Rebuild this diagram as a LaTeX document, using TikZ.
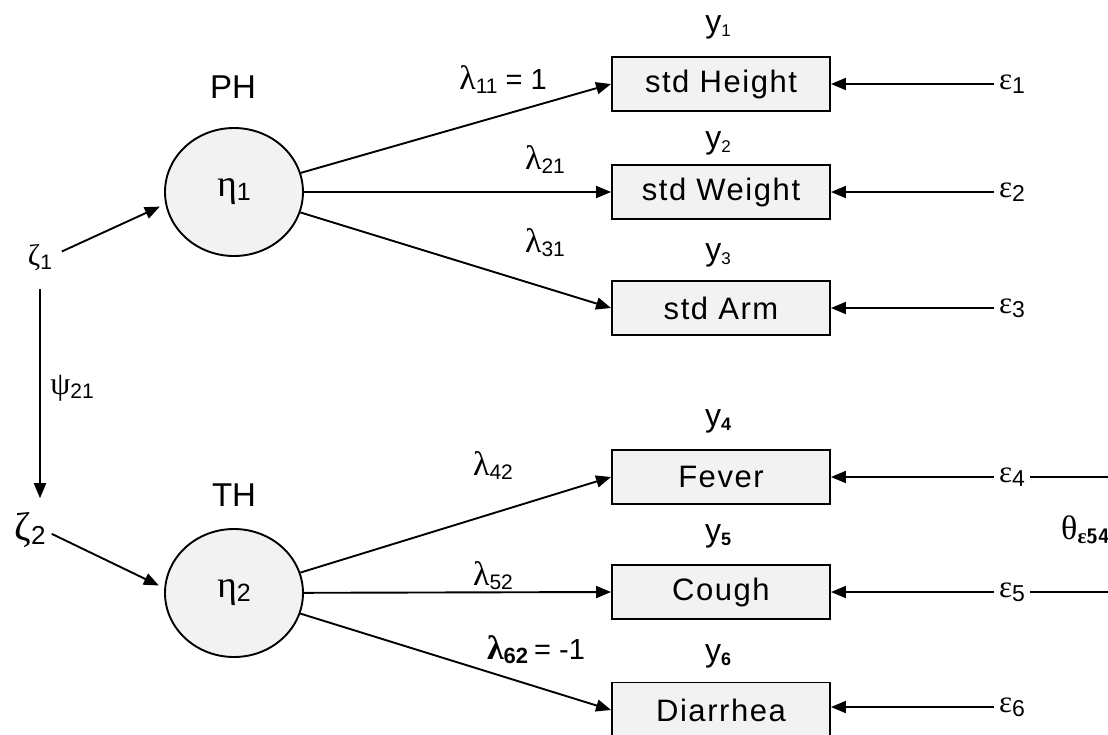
\documentclass[tikz,border=0pt]{standalone}
\usepackage{fontspec}
\setmainfont{Liberation Sans}
\newfontfamily\gr{Liberation Serif}
\newfontfamily\wide[LetterSpace=5]{Liberation Sans}
\usetikzlibrary{arrows.meta,shapes.geometric}
% subscript: #1 size, #2 text
\newcommand\sbs[2]{\raisebox{-4pt}{\fontsize{#1}{#1}\selectfont #2}}
\newcommand\grk[2]{{\fontsize{#1}{#1}\selectfont\gr #2}}
\begin{document}
\begin{tikzpicture}[x=1pt,y=-1pt,
  arr/.style={line width=1.9pt,-{Triangle[length=15pt,width=12pt]}},
  ln/.style={line width=1.9pt},
  obs/.style={draw,line width=1.9pt,fill=black!5,minimum width=218pt,minimum height=54pt,
    inner sep=0pt,font=\wide\fontsize{31}{33}\selectfont},
  lat/.style={ellipse,draw,line width=1.9pt,fill=black!5,minimum width=138pt,minimum height=128pt,inner sep=0pt},
  lbl/.style={inner sep=0pt,font=\fontsize{28}{30}\selectfont},
  ylb/.style={inner sep=0pt,font=\fontsize{32}{34}\selectfont},
  err/.style={inner sep=5pt,anchor=west}]
\useasboundingbox (0,0) rectangle (1108,734);

% observed indicators
\node[obs] (h) at (721,84) {std Height};
\node[obs] (w) at (721,192) {std Weight};
\node[obs] (a) at (721,308) {std Arm};
\node[obs] (f) at (721,477) {Fever};
\node[obs] (c) at (721,592) {Cough};
\node[obs,minimum height=55pt] (d) at (721,710) {Diarrhea};

\node[ylb] (ly1) at (718,27) {y\sbs{17}{1}};
\node[ylb] (ly2) at (718,143) {y\sbs{17}{2}};
\node[ylb] (ly3) at (718,255) {y\sbs{17}{3}};
\node[ylb] (ly4) at (718,421) {y\sbs{18}{\bfseries 4}};
\node[ylb] (ly5) at (718,536) {y\sbs{18}{\bfseries 5}};
\node[ylb] (ly6) at (718,656) {y\sbs{18}{\bfseries 6}};

% latent variables
\node[lat] (e1) at (234,192) {\grk{38}{η}\sbs{25}{1}};
\node[lat] (e2) at (234,593) {\grk{38}{η}\sbs{25}{2}};
\node[lbl,font=\fontsize{33}{35}\selectfont] (ph) at (233,87) {PH};
\node[lbl,font=\fontsize{33}{35}\selectfont] (th) at (234,495) {TH};

% disturbances
\node[inner sep=6pt] (z1) at (40,258) {\grk{30}{ζ}\sbs{21}{1}};
\node[inner sep=6pt] (z2) at (30,530) {\grk{40}{ζ}\sbs{26}{2}};
\node[inner sep=0pt] (psi) at (72,388) {\grk{32}{ψ}\sbs{21}{21}};

% measurement errors
\node[err] (d1) at (994,84) {\grk{31}{ε}\sbs{23}{1}};
\node[err] (d2) at (994,192) {\grk{31}{ε}\sbs{23}{2}};
\node[err] (d3) at (994,308) {\grk{31}{ε}\sbs{23}{3}};
\node[err] (d4) at (994,477) {\grk{31}{ε}\sbs{23}{4}};
\node[err] (d5) at (994,592) {\grk{31}{ε}\sbs{23}{5}};
\node[err] (d6) at (994,707) {\grk{31}{ε}\sbs{23}{6}};
\coordinate (r4) at (1108,477);
\coordinate (r5) at (1108,592);
\node[inner sep=0pt,anchor=west] (cov) at (1061,530)
  {\grk{34}{θ}\sbs{21}{\bfseries\gr ε\sffamily\bfseries 54}};

% loadings
\node[lbl] (l11) at (503,80) {\grk{34}{λ}\sbs{21}{11}\hspace{8pt}\fontsize{29}{30}\selectfont = 1};
\node[lbl] (l21) at (545,160) {\grk{34}{λ}\sbs{21}{21}};
\node[lbl] (l31) at (545,243) {\grk{34}{λ}\sbs{21}{31}};
\node[lbl] (l42) at (493,466) {\grk{34}{λ}\sbs{21}{42}};
\node[lbl] (l52) at (493,576) {\grk{34}{λ}\sbs{21}{52}};
\node[lbl] (l62) at (536,650) {{\fontsize{34}{34}\selectfont\gr\bfseries λ}\sbs{22}{\bfseries 62}\hspace{6pt}\fontsize{29}{30}\selectfont = -1};

% paths
\draw[arr] (e1) -- (h.west);
\draw[arr] (e1) -- (w.west);
\draw[arr] (e1) -- (a.west);
\draw[arr] (e2) -- (f.west);
\draw[arr] (e2) -- (c.west);
\draw[arr] (e2) -- (d.west);

\draw[arr,shorten >=6pt,shorten <=4pt] (z1.15) -- (e1.190);
\draw[arr,shorten >=6pt] (z2.-10) -- (e2.176);
\draw[arr,shorten <=12pt,shorten >=8pt] (z1.south) -- (z1.south |- z2.north);

\foreach \e/\b in {d1/h,d2/w,d3/a,d4/f,d5/c,d6/d}
  \draw[arr] (\e.west) -- (\b.east |- \e.west);
\draw[ln] (d4.east) -- (r4);
\draw[ln] (d5.east) -- (r5);
\end{tikzpicture}
\end{document}
